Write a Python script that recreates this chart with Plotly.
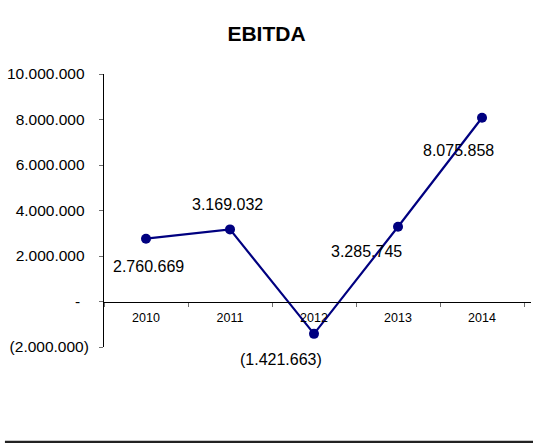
import plotly.graph_objects as go

years = ["2010", "2011", "2012", "2013", "2014"]
ebitda = [2760669, 3169032, -1421663, 3285745, 8075858]
label_text = ["2.760.669", "3.169.032", "(1.421.663)", "3.285.745", "8.075.858"]
label_dx = [2, -3, -33, -32, -24]
label_dy = [-28, 25, -26, -25, -33]
y_tickvals = [-2000000, 0, 2000000, 4000000, 6000000, 8000000, 10000000]
y_ticktext = ["(2.000.000)", "-\u00a0\u00a0", "2.000.000\u00a0", "4.000.000\u00a0",
              "6.000.000\u00a0", "8.000.000\u00a0", "10.000.000\u00a0"]

FONT = "Liberation Sans, Arial, sans-serif"
NAVY = "#000080"
TICKC = "#6f6f6f"

fig = go.Figure()
fig.add_trace(go.Scatter(
    x=years, y=ebitda, mode="lines+markers",
    line=dict(color=NAVY, width=2.2),
    marker=dict(color=NAVY, size=10),
    hoverinfo="skip", showlegend=False, cliponaxis=False,
))

for i, (y, t, dx, dy) in enumerate(zip(ebitda, label_text, label_dx, label_dy)):
    fig.add_annotation(x=i, y=y, xref="x", yref="y", text=t, showarrow=False,
                       xshift=dx, yshift=dy,
                       font=dict(family=FONT, size=16, color="black"))

fig.add_shape(type="line", xref="paper", yref="paper", x0=-0.232, x1=1.05,
              y0=-0.349, y1=-0.349, line=dict(color="#222222", width=3))

fig.update_layout(
    width=533, height=443,
    margin=dict(l=104, r=2, t=74, b=96),
    paper_bgcolor="white", plot_bgcolor="white",
    title=dict(text="<b>EBITDA</b>", x=0.5, xanchor="center", y=0.923, yanchor="middle",
               font=dict(family=FONT, size=21, color="black")),
    font=dict(family=FONT, color="black"),
    xaxis=dict(
        type="category", anchor="free", position=1/6,
        showline=True, linecolor="black", linewidth=1,
        ticks="outside", tickson="boundaries", ticklen=4, tickcolor=TICKC,
        ticklabelstandoff=4,
        showgrid=False, zeroline=False,
        tickfont=dict(family=FONT, size=12.5, color="black"),
        range=[-0.5, 4.583],
    ),
    yaxis=dict(
        range=[-2000000, 10000000],
        tickvals=y_tickvals, ticktext=y_ticktext,
        showline=True, linecolor="black", linewidth=1,
        ticks="outside", ticklen=4, tickcolor=TICKC,
        ticklabelstandoff=7,
        showgrid=False, zeroline=False,
        tickfont=dict(family=FONT, size=15.5, color="black"),
    ),
)

fig.write_html("out.html", config={"displayModeBar": False},
               post_script="document.body.style.margin='0';")
